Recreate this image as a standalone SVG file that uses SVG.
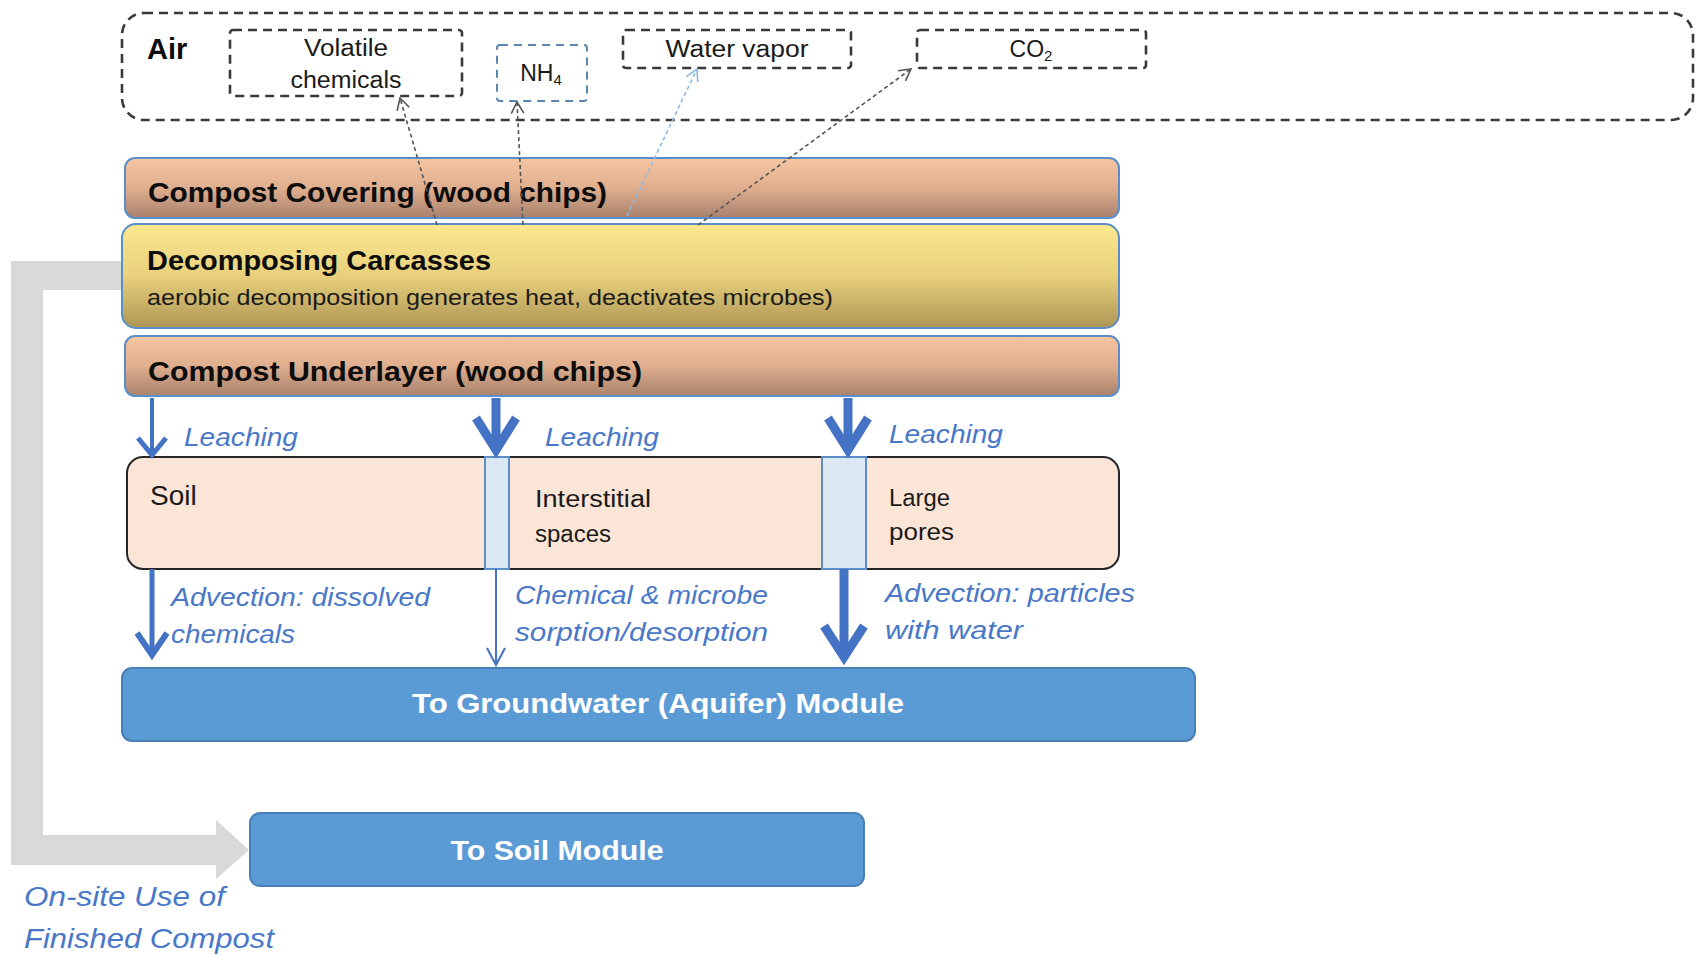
<svg xmlns="http://www.w3.org/2000/svg" width="1696" height="957" viewBox="0 0 1696 957">
  <defs>
    <linearGradient id="gradWood" x1="0" y1="0" x2="0" y2="1">
      <stop offset="0" stop-color="#f6c6a2"/>
      <stop offset="0.5" stop-color="#dfae8e"/>
      <stop offset="1" stop-color="#a8826d"/>
    </linearGradient>
    <linearGradient id="gradCarcass" x1="0" y1="0" x2="0" y2="1">
      <stop offset="0" stop-color="#fce88f"/>
      <stop offset="0.5" stop-color="#e8d07c"/>
      <stop offset="1" stop-color="#ad9655"/>
    </linearGradient>
    <marker id="openHead" markerUnits="userSpaceOnUse" markerWidth="16" markerHeight="16" refX="11" refY="6" orient="auto" viewBox="0 0 14 12">
      <path d="M1,0.5 L11,6 L1,11.5" fill="none" stroke="#555" stroke-width="1.4"/>
    </marker>
    <marker id="openHeadBlue" markerUnits="userSpaceOnUse" markerWidth="16" markerHeight="16" refX="11" refY="6" orient="auto" viewBox="0 0 14 12">
      <path d="M1,0.5 L11,6 L1,11.5" fill="none" stroke="#8ab8e4" stroke-width="1.4"/>
    </marker>
  </defs>
  <style>
    text { font-family: "Liberation Sans", Arial, sans-serif; }
    .dash { fill: none; stroke: #3a3a3a; stroke-width: 2.6; stroke-dasharray: 9 6; }
    .dashBlue { fill: none; stroke: #5b86b0; stroke-width: 2; stroke-dasharray: 8 6; }
    .airTxt { font-size: 23px; fill: #1a1a1a; text-anchor: middle; }
    .layer { stroke: #5b8ec8; stroke-width: 2; }
    .title { font-size: 28px; font-weight: bold; fill: #0d0d0d; }
    .sub { font-size: 22px; fill: #1a1a1a; }
    .soilTxt { font-size: 23px; fill: #1a1a1a; }
    .flowLbl { font-size: 26px; font-style: italic; fill: #4a78c8; }
    .blue { stroke: #4472c4; fill: none; }
    .module { fill: #5b9bd5; stroke: #4a7fb5; stroke-width: 2; }
    .modTxt { font-size: 28px; font-weight: bold; fill: #ffffff; text-anchor: middle; }
    .gas { fill: none; stroke: #555; stroke-width: 1.6; stroke-dasharray: 4 3; }
    .vapor { stroke: #8ab8e4; }
  </style>

  <!-- recycled compost path back to the soil module -->
  <path id="compost-reuse" d="M122,261 L11,261 L11,865 L216,865 L216,879 L249,850 L216,820 L216,835 L43,835 L43,290 L122,290 Z" fill="#d9d9d9"/>

  <!-- air compartment -->
  <g id="air">
    <rect x="122" y="13" width="1571" height="107" rx="22" class="dash"/>
    <text x="147" y="59" font-size="29" font-weight="bold" fill="#0d0d0d">Air</text>
  </g>
  <g id="volatile">
    <rect x="230" y="30" width="232" height="66" rx="3" class="dash"/>
    <text x="346" y="56" class="airTxt" textLength="84" lengthAdjust="spacingAndGlyphs">Volatile</text>
    <text x="346" y="88" class="airTxt" textLength="111" lengthAdjust="spacingAndGlyphs">chemicals</text>
  </g>
  <g id="nh4">
    <rect x="497" y="45" width="90" height="56" rx="3" class="dashBlue"/>
    <text x="541" y="81" class="airTxt">NH<tspan font-size="15" dy="4">4</tspan></text>
  </g>
  <g id="water-vapor">
    <rect x="623" y="30" width="228" height="38" rx="3" class="dash"/>
    <text x="737" y="57" class="airTxt" textLength="143" lengthAdjust="spacingAndGlyphs">Water vapor</text>
  </g>
  <g id="co2">
    <rect x="917" y="30" width="229" height="38" rx="3" class="dash"/>
    <text x="1031" y="57" class="airTxt">CO<tspan font-size="15" dy="4">2</tspan></text>
  </g>

  <!-- compost pile layers -->
  <g id="covering">
    <rect x="125" y="158" width="994" height="60" rx="10" fill="url(#gradWood)" class="layer"/>
    <text x="148" y="202" class="title" textLength="459" lengthAdjust="spacingAndGlyphs">Compost Covering (wood chips)</text>
  </g>
  <g id="carcasses">
    <rect x="122" y="224" width="997" height="104" rx="14" fill="url(#gradCarcass)" class="layer"/>
    <text x="147" y="270" class="title" textLength="344" lengthAdjust="spacingAndGlyphs">Decomposing Carcasses</text>
    <text x="147" y="305" class="sub" textLength="686" lengthAdjust="spacingAndGlyphs">aerobic decomposition generates heat, deactivates microbes)</text>
  </g>
  <g id="underlayer">
    <rect x="125" y="336" width="994" height="60" rx="10" fill="url(#gradWood)" class="layer"/>
    <text x="148" y="381" class="title" textLength="494" lengthAdjust="spacingAndGlyphs">Compost Underlayer (wood chips)</text>
  </g>

  <!-- soil beneath the pile -->
  <g id="soil">
    <rect x="127" y="457" width="992" height="112" rx="16" fill="#fbe5d6" stroke="#262626" stroke-width="2"/>
    <rect x="485" y="457" width="24" height="112" fill="#dce9f5" stroke="#5b8ec8" stroke-width="2"/>
    <rect x="822" y="457" width="44" height="112" fill="#dce9f5" stroke="#5b8ec8" stroke-width="2"/>
    <text x="150" y="505" font-size="28" fill="#1a1a1a">Soil</text>
    <text x="535" y="507" class="soilTxt" textLength="116" lengthAdjust="spacingAndGlyphs">Interstitial</text>
    <text x="535" y="542" class="soilTxt" textLength="76" lengthAdjust="spacingAndGlyphs">spaces</text>
    <text x="889" y="506" class="soilTxt" textLength="61" lengthAdjust="spacingAndGlyphs">Large</text>
    <text x="889" y="540" class="soilTxt" textLength="65" lengthAdjust="spacingAndGlyphs">pores</text>
  </g>

  <!-- output modules -->
  <g id="groundwater">
    <rect x="122" y="668" width="1073" height="73" rx="10" class="module"/>
    <text x="658" y="713" class="modTxt" textLength="492" lengthAdjust="spacingAndGlyphs">To Groundwater (Aquifer) Module</text>
  </g>
  <g id="soil-module">
    <rect x="250" y="813" width="614" height="73" rx="10" class="module"/>
    <text x="557" y="860" class="modTxt" textLength="213" lengthAdjust="spacingAndGlyphs">To Soil Module</text>
  </g>

  <!-- connectors -->
  <g id="connectors">
    <line x1="437" y1="225" x2="400" y2="98" class="gas" marker-end="url(#openHead)"/>
    <line x1="523" y1="225" x2="517" y2="102" class="gas" marker-end="url(#openHead)"/>
    <line x1="627" y1="216" x2="697" y2="69" class="gas vapor" marker-end="url(#openHeadBlue)"/>
    <line x1="698" y1="225" x2="911" y2="69" class="gas" marker-end="url(#openHead)"/>

    <!-- leaching from the underlayer -->
    <line x1="152" y1="398" x2="152" y2="452" class="blue" stroke-width="4"/>
    <polyline points="138,438 152,455 166,438" class="blue" stroke-width="5" stroke-linejoin="miter"/>
    <line x1="496" y1="398" x2="496" y2="448" class="blue" stroke-width="9"/>
    <polyline points="476,418 496,450 516,418" class="blue" stroke-width="9" stroke-linejoin="miter"/>
    <line x1="848" y1="398" x2="848" y2="448" class="blue" stroke-width="9"/>
    <polyline points="828,418 848,450 868,418" class="blue" stroke-width="9" stroke-linejoin="miter"/>

    <!-- transport to groundwater -->
    <line x1="152" y1="569" x2="152" y2="652" class="blue" stroke-width="5"/>
    <polyline points="137,633 152,655 167,633" class="blue" stroke-width="6" stroke-linejoin="miter"/>
    <line x1="496" y1="569" x2="496" y2="664" class="blue" stroke-width="2"/>
    <polyline points="487,648 496,665 505,648" class="blue" stroke-width="2"/>
    <line x1="844" y1="569" x2="844" y2="655" class="blue" stroke-width="9"/>
    <polyline points="824,626 844,657 864,626" class="blue" stroke-width="9" stroke-linejoin="miter"/>
  </g>

  <!-- flow labels -->
  <g id="labels">
    <text x="184" y="446" class="flowLbl" textLength="114" lengthAdjust="spacingAndGlyphs">Leaching</text>
    <text x="545" y="446" class="flowLbl" textLength="114" lengthAdjust="spacingAndGlyphs">Leaching</text>
    <text x="889" y="443" class="flowLbl" textLength="114" lengthAdjust="spacingAndGlyphs">Leaching</text>
    <text x="171" y="606" class="flowLbl" textLength="259" lengthAdjust="spacingAndGlyphs">Advection: dissolved</text>
    <text x="171" y="643" class="flowLbl" textLength="124" lengthAdjust="spacingAndGlyphs">chemicals</text>
    <text x="515" y="604" class="flowLbl" textLength="253" lengthAdjust="spacingAndGlyphs">Chemical &amp; microbe</text>
    <text x="515" y="641" class="flowLbl" textLength="253" lengthAdjust="spacingAndGlyphs">sorption/desorption</text>
    <text x="885" y="602" class="flowLbl" textLength="250" lengthAdjust="spacingAndGlyphs">Advection: particles</text>
    <text x="885" y="639" class="flowLbl" textLength="138" lengthAdjust="spacingAndGlyphs">with water</text>
    <text x="24" y="906" class="flowLbl" style="font-size:28px" textLength="201" lengthAdjust="spacingAndGlyphs">On-site Use of</text>
    <text x="24" y="948" class="flowLbl" style="font-size:28px" textLength="250" lengthAdjust="spacingAndGlyphs">Finished Compost</text>
  </g>
</svg>
